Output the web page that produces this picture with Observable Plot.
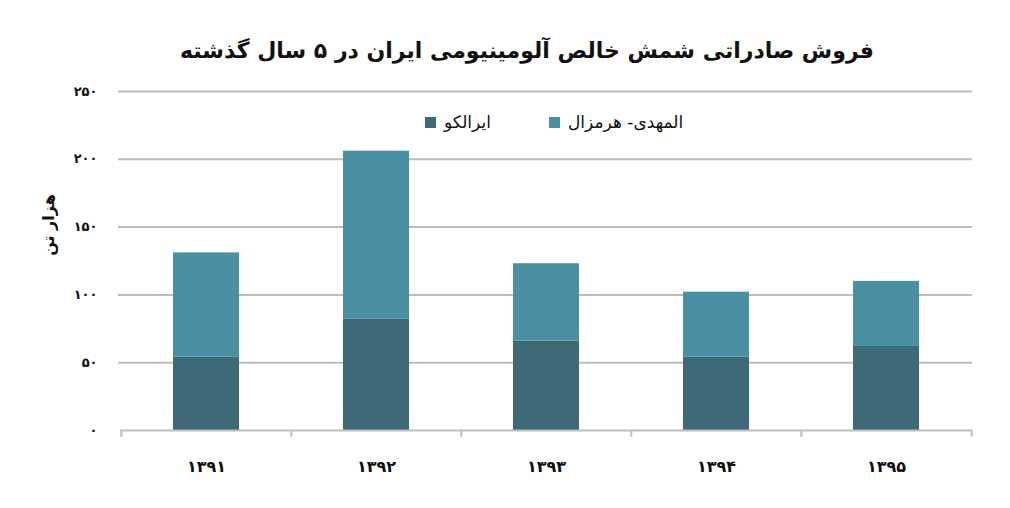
<!DOCTYPE html>
<html>
<head>
<meta charset="utf-8">
<script src="https://cdn.jsdelivr.net/npm/d3@7"></script>
<script src="https://cdn.jsdelivr.net/npm/@observablehq/plot@0.6"></script>
<style>
  body { margin: 0; background: #fff; font-family: "DejaVu Sans", sans-serif; }
  #wrap { position: relative; width: 1010px; height: 508px; overflow: hidden; }
  #title { position: absolute; left: 0; top: 0; width: 1010px; height: 70px; text-align: center; font-weight: bold; font-size: 22px; color: #111; direction: rtl; }
  #title span { position: absolute; left: 527px; top: 50px; transform: translate(-50%, -50%); white-space: nowrap; }
  #chart { position: absolute; left: 0; top: 70px; }
  .leg { position: absolute; top: 122px; transform: translateY(-50%); font-size: 17px; color: #111; display: flex; align-items: center; gap: 8px; direction: ltr; }
  .sw { width: 11px; height: 11px; display: inline-block; }
  .ylab { position: absolute; left: 48px; top: 225px; transform: translate(-50%, -50%) rotate(-90deg); font-size: 16px; font-weight: bold; color: #111; white-space: nowrap; direction: rtl; }
</style>
</head>
<body>
<div id="wrap">
  <div id="title"><span>فروش صادراتی شمش خالص آلومینیومی ایران در ۵ سال گذشته</span></div>
  <div id="chart"></div>
</div>
<script>
const years = ["۱۳۹۱", "۱۳۹۲", "۱۳۹۳", "۱۳۹۴", "۱۳۹۵"];
const seriesNames = ["ایرالکو", "المهدی- هرمزال"];
const iralco = [54, 82, 66, 54, 62];
const almahdi = [77, 124, 57, 48, 48];
const yTicks = [0, 50, 100, 150, 200, 250];
const colors = ["#3e6a77", "#4b8fa2"];
const yLabel = "هزار تن";

const fa = d => String(d).replace(/\d/g, c => "۰۱۲۳۴۵۶۷۸۹"[+c]);

const data = [];
years.forEach((y, i) => {
  data.push({year: y, series: seriesNames[0], value: iralco[i]});
  data.push({year: y, series: seriesNames[1], value: almahdi[i]});
});

const W = 1010, H = 438, mL = 120, mR = 38, mT = 21, mB = 78;
const half = (W - mL - mR) / years.length / 2;

const chart = Plot.plot({
  width: W, height: H,
  marginLeft: mL, marginRight: mR, marginTop: mT, marginBottom: mB,
  style: {fontFamily: "DejaVu Sans, sans-serif", background: "#fff"},
  x: {domain: years, paddingInner: 0.61, paddingOuter: 0.305, label: null},
  y: {domain: [0, 250], ticks: yTicks, label: null},
  color: {domain: seriesNames, range: colors},
  marks: [
    Plot.ruleY(yTicks.filter(d => d > 0), {stroke: "#bdbdbd", strokeWidth: 2, insetLeft: -2}),
    Plot.barY(data, {x: "year", y: "value", fill: "series", order: seriesNames}),
    Plot.ruleY([0], {stroke: "#bdbdbd", strokeWidth: 2}),
    Plot.ruleX(years, {x: d => d, dx: -half, y1: 0, y2: -5, stroke: "#bdbdbd", strokeWidth: 2}),
    Plot.ruleX([years[years.length - 1]], {x: d => d, dx: half, y1: 0, y2: -5, stroke: "#bdbdbd", strokeWidth: 2}),
    Plot.axisX({tickSize: 0, tickPadding: 30, tickFormat: d => d, fontSize: 16, fontWeight: "bold", fill: "#111"}),
    Plot.axisY({ticks: yTicks, tickSize: 0, tickPadding: 23, tickFormat: fa, fontSize: 13, fontWeight: "bold", fill: "#111"})
  ]
});
document.getElementById("chart").appendChild(chart);

const wrap = document.getElementById("wrap");
const legItems = [
  {name: seriesNames[0], color: colors[0], left: 425},
  {name: seriesNames[1], color: colors[1], left: 549}
];
legItems.forEach(it => {
  const d = document.createElement("div");
  d.className = "leg";
  d.style.left = it.left + "px";
  d.innerHTML = `<span class="sw" style="background:${it.color}"></span><span>${it.name}</span>`;
  wrap.appendChild(d);
});
const yl = document.createElement("div");
yl.className = "ylab";
yl.textContent = yLabel;
wrap.appendChild(yl);
</script>
</body>
</html>
